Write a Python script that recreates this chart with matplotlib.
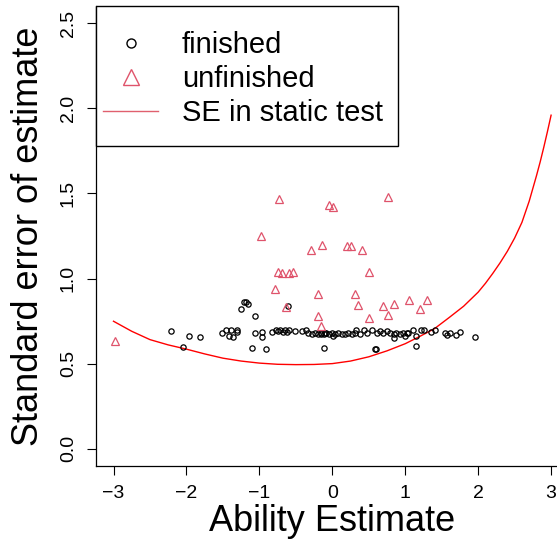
"""Standard error of ability estimate: finished vs unfinished tests"""
import matplotlib.pyplot as plt
from matplotlib.lines import Line2D
from matplotlib.patches import Rectangle

# finished examinees (black open circles)
finished_x = [-2.21, -2.05, -1.96, -1.81, -1.51, -1.46, -1.41, -1.36, -1.39, -1.31, -1.30,
              -1.25, -1.21, -1.19, -1.16, -1.10, -1.06, -1.06, -0.96, -0.96, -0.91,
              -0.82, -0.77, -0.74, -0.72, -0.68, -0.65, -0.62, -0.60, -0.61, -0.51, -0.42, -0.36,
              -0.33, -0.28, -0.24, -0.19, -0.16, -0.12, -0.10, -0.05, -0.01, 0.01, 0.04, 0.08,
              0.13, 0.17, 0.22, 0.27, 0.31, 0.33, 0.38, 0.43, 0.47, -0.11, -0.15, -0.08,
              0.54, 0.59, 0.60, 0.61, 0.65, 0.70, 0.75, 0.79, 0.84, 0.84, 0.88, 0.93, 0.97, 1.00, 1.04,
              1.02, 1.11, 1.15, 1.15, 1.21, 1.26, 1.36, 1.41, 1.55, 1.57, 1.61, 1.70, 1.75, 1.96]
finished_y = [0.690, 0.598, 0.665, 0.657, 0.677, 0.700, 0.665, 0.655, 0.697, 0.696, 0.688,
              0.823, 0.860, 0.865, 0.849, 0.593, 0.778, 0.681, 0.687, 0.657, 0.587,
              0.687, 0.697, 0.690, 0.700, 0.688, 0.697, 0.683, 0.695, 0.837, 0.690, 0.690, 0.700,
              0.681, 0.675, 0.681, 0.675, 0.681, 0.675, 0.681, 0.675, 0.681, 0.661, 0.675, 0.681,
              0.675, 0.675, 0.681, 0.675, 0.681, 0.700, 0.675, 0.700, 0.681, 0.593, 0.675, 0.681,
              0.700, 0.587, 0.585, 0.681, 0.690, 0.681, 0.690, 0.681, 0.675, 0.652, 0.681, 0.675, 0.681, 0.661, 0.681,
              0.680, 0.696, 0.602, 0.665, 0.696, 0.700, 0.684, 0.700, 0.677, 0.671, 0.681, 0.671, 0.684, 0.657]

# unfinished examinees (red open triangles)
unfinished_x = [-2.98, -0.98, -0.73, -0.79, -0.74, -0.69, -0.59, -0.54, -0.64, -0.29,
                -0.14, -0.19, -0.20, -0.15, -0.05, 0.01, 0.20, 0.26, 0.41, 0.31,
                0.35, 0.51, 0.50, 0.76, 0.70, 0.84, 0.76, 1.05, 1.20, 1.30]
unfinished_y = [0.632, 1.25, 1.47, 0.94, 1.04, 1.03, 1.03, 1.04, 0.835, 1.17,
                1.20, 0.91, 0.778, 0.72, 1.43, 1.42, 1.19, 1.19, 1.17, 0.91,
                0.847, 1.04, 0.77, 1.48, 0.84, 0.85, 0.785, 0.876, 0.823, 0.876]

# SE curve of the static test
curve_x = [-3.0, -2.75, -2.5, -2.25, -2.0, -1.75, -1.5, -1.25, -1.0, -0.75, -0.5, -0.25,
           0.0, 0.25, 0.5, 0.75, 1.0, 1.2, 1.4, 1.6, 1.8, 2.0, 2.1, 2.2, 2.3, 2.4, 2.5,
           2.6, 2.7, 2.8, 2.85, 2.9, 2.95, 3.0]
curve_y = [0.749, 0.690, 0.641, 0.610, 0.585, 0.557, 0.532, 0.515, 0.503, 0.496, 0.494, 0.495,
           0.500, 0.515, 0.540, 0.575, 0.617, 0.660, 0.705, 0.770, 0.837, 0.920, 0.972, 1.030,
           1.092, 1.160, 1.238, 1.330, 1.455, 1.605, 1.685, 1.772, 1.864, 1.960]

plt.rcParams['font.family'] = ['Liberation Sans', 'DejaVu Sans']

fig = plt.figure(figsize=(5.57, 5.39), dpi=100)
ax = fig.add_axes([96 / 557, 73.3 / 539, 472.6 / 557, 459.4 / 539])

ax.plot(curve_x, curve_y, color='#FF0000', lw=1.0)
ax.plot(finished_x, finished_y, ls='none', marker='o', ms=3.8, mfc='none', mec='black', mew=0.9)
ax.plot(unfinished_x, unfinished_y, ls='none', marker='^', ms=6.0, mfc='none', mec='#DF536B', mew=0.9)

ax.set_xlim(-3.24, 3.24)
ax.set_ylim(-0.1, 2.6)
ax.set_xticks([-3, -2, -1, 0, 1, 2, 3])
ax.set_yticks([0.0, 0.5, 1.0, 1.5, 2.0, 2.5])
ax.set_yticklabels(['0.0', '0.5', '1.0', '1.5', '2.0', '2.5'])

ax.spines['top'].set_visible(False)
ax.spines['right'].set_visible(False)
ax.spines['left'].set_linewidth(0.9)
ax.spines['bottom'].set_linewidth(0.9)
ax.tick_params(direction='out', length=6.7, width=0.8, pad=7, labelsize=14)
plt.setp(ax.get_yticklabels(), rotation=90, va='center')

ax.set_xlabel('Ability Estimate', fontsize=26)
ax.set_ylabel('Standard error of estimate', fontsize=26)
ax.xaxis.set_label_coords(0.5, -0.083)
ax.yaxis.set_label_coords(-0.105, 0.5)

# legend box (R style, big padding)
ax.add_patch(Rectangle((0, 0.6966), 0.639, 0.3034, transform=ax.transAxes,
                       facecolor='white', edgecolor='black', lw=1.0, clip_on=False, zorder=4))

handles = [
    Line2D([], [], ls='none', marker='o', ms=6.5, mfc='none', mec='black', mew=1.0),
    Line2D([], [], ls='none', marker='^', ms=12, mfc='none', mec='#DF536B', mew=1.0),
    Line2D([], [], color='#E0606E', lw=1.0),
]
leg = ax.legend(handles, ['finished', 'unfinished', 'SE in static test'],
                loc='center left', bbox_to_anchor=(0.0148, 0.842), borderaxespad=0,
                fontsize=21, frameon=False, borderpad=0,
                handlelength=1.9, handletextpad=0.8, labelspacing=0.2)
leg.set_zorder(5)

plt.savefig('out.png', dpi=100)
